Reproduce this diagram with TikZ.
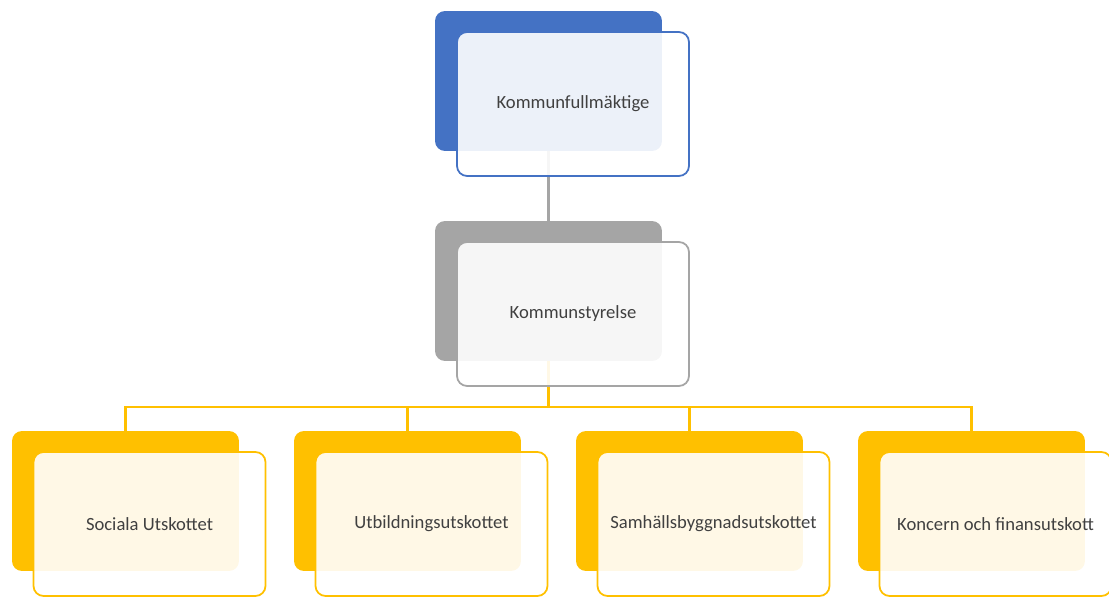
\documentclass[tikz,border=0pt]{standalone}
\usepackage{fontspec}
\setmainfont{Carlito}
\usetikzlibrary{backgrounds}
\definecolor{Council}{HTML}{4472C4}
\definecolor{Board}{HTML}{A5A5A5}
\definecolor{Committee}{HTML}{FFC000}
\definecolor{Ink}{HTML}{404040}

\begin{document}
\begin{tikzpicture}[x=0.02cm,y=-0.02cm,every node/.style={text=Ink,font=\fontsize{10.6}{12}\selectfont},
  backcard/.style={fill=#1,rounded corners=0.2cm,minimum width=4.54cm,minimum height=2.8cm},
  frontcard/.style={draw=#1,line width=1pt,fill=white,fill opacity=0.9,text opacity=1,
    rounded corners=0.2cm,minimum width=4.64cm,minimum height=2.88cm},
  link/.style={line width=1.2pt}]
  \useasboundingbox (0,0) rectangle (1109,597);

  % Council and board cards.
  \node[backcard=Council] (kfback) at (548.5,81) {};
  \node[frontcard=Council] (kf) at (573,104) {Kommunfullmäktige};
  \node[backcard=Board] (ksback) at (548.5,291) {};
  \node[frontcard=Board] (ks) at (573,314) {Kommunstyrelse};

  % Committee cards.
  \foreach \x/\n/\t in {125.5/soc/Sociala Utskottet,407.5/utb/Utbildningsutskottet,
      689.5/sam/Samhällsbyggnadsutskottet,971.5/kon/Koncern och finansutskott} {
    \node[backcard=Committee] (\n back) at (\x,501) {};
    \node[frontcard=Committee] (\n) at (\x+24,524) {\t};
  }

  % Connectors behind the cards.
  \begin{scope}[on background layer]
    \draw[link,Board] (kfback.south) -- (ksback.north);
    \coordinate (bar) at (548.5,407);
    \draw[link,Committee] (ksback.south) -- (bar);
    \foreach \n in {soc,utb,sam,kon}
      \draw[link,Committee] (bar) -| (\n back.north);
  \end{scope}
\end{tikzpicture}
\end{document}
